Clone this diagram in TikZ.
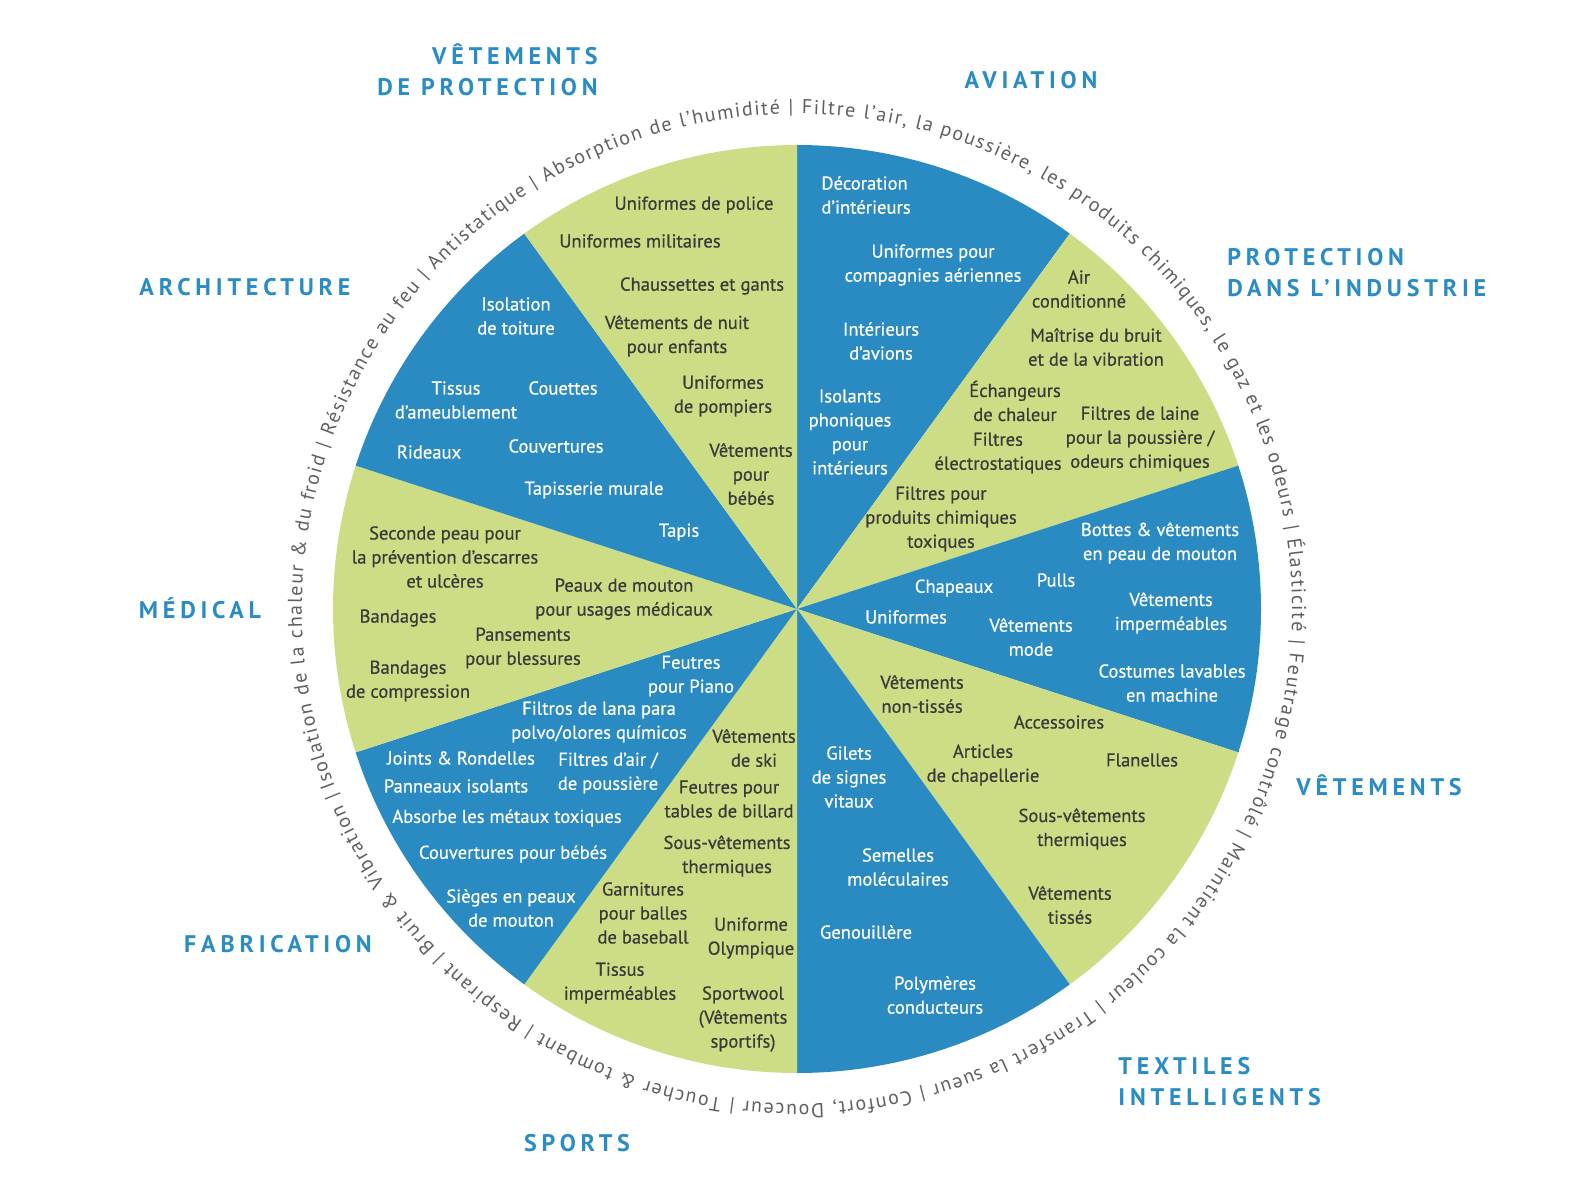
\documentclass[tikz,border=0pt]{standalone}
\usepackage{fontspec}
\setmainfont{PT Sans}
\newfontfamily\ringfont{PT Sans}
\newfontfamily\wheelfam{PT Sans}[FakeBold=0.6]
\newfontfamily\headfont{PT Sans}[LetterSpace=20]
\usetikzlibrary{decorations.text}
\definecolor{SecBlue}{RGB}{41,139,193}
\definecolor{SecGreen}{RGB}{205,221,133}
\definecolor{HeadBlue}{RGB}{42,140,196}
\definecolor{TextDark}{RGB}{58,58,58}
\definecolor{RingGray}{RGB}{95,95,95}
\newcommand{\wheelfont}{\wheelfam\fontsize{9.3}{12}\selectfont}

\begin{document}
\begin{tikzpicture}[x=0.5pt,y=0.5pt,
    wt/.style={text=white,font=\wheelfont,align=center,inner sep=0pt},
    dk/.style={text=TextDark,font=\wheelfont,align=center,inner sep=0pt},
    hd/.style={text=HeadBlue,font=\headfont\bfseries\fontsize{12}{15.5}\selectfont,
               align=center,inner sep=0pt}
  ]
    \useasboundingbox (0,0) rectangle (1596,-1188);
    \coordinate (ctr) at (797,-609);

    % wheel
    \foreach \a/\c in {90/SecBlue,54/SecGreen,18/SecBlue,-18/SecGreen,-54/SecBlue,
                       -90/SecGreen,-126/SecBlue,-162/SecGreen,-198/SecBlue,-234/SecGreen}
      \fill[\c] (ctr) -- ++(\a:464) arc[start angle=\a,delta angle=-36,radius=464] -- cycle;

    % ring of properties
    \path[decorate,decoration={text along path,text align={fit to path},
        text color=RingGray,
        text={|\ringfont\fontsize{10}{11}\selectfont|Isolation de la chaleur {\&} du froid {\textbar} Résistance au feu {\textbar} Antistatique {\textbar} Absorption de l’humidité {\textbar} Filtre l’air, la poussière, les produits chimiques, le gaz et les odeurs {\textbar} Élasticité {\textbar} Feutrage contrôlé {\textbar} Maintient la couleur {\textbar} Transfert la sueur {\textbar} Confort, Douceur {\textbar} Toucher {\&} tombant {\textbar} Respirant {\textbar} Bruit {\&} Vibration {\textbar}}}]
      (ctr) ++(201:495) arc[start angle=201,end angle=-158,radius=495];

    % headings
    \node[hd,align=right,anchor=east] (hvp) at (598,-70) {VÊTEMENTS\\DE PROTECTION};
    \node[hd] (hav) at (1031,-80) {AVIATION};
    \node[hd,align=left,anchor=west] (hpi) at (1227,-273) {PROTECTION\\DANS L’INDUSTRIE};
    \node[hd] (har) at (245,-287) {ARCHITECTURE};
    \node[hd] (hme) at (200,-608) {MÉDICAL};
    \node[hd] (hve) at (1379,-785) {VÊTEMENTS};
    \node[hd] (hfa) at (278,-944) {FABRICATION};
    \node[hd,align=left,anchor=west] (hti) at (1118,-1082) {TEXTILES\\INTELLIGENTS};
    \node[hd] (hsp) at (577,-1143) {SPORTS};

    % aviation
    \node[wt,align=left,anchor=west] (av1) at (821,-195) {Décoration\\d’intérieurs};
    \node[wt] (av2) at (933,-265) {Uniformes pour\\compagnies aériennes};
    \node[wt] (av3) at (881,-341) {Intérieurs\\d’avions};
    \node[wt] (av4) at (850,-432) {Isolants\\phoniques\\pour\\intérieurs};

    % protection dans l'industrie
    \node[dk] (pi1) at (1079,-289) {Air\\conditionné};
    \node[dk] (pi2) at (1096,-347) {Maîtrise du bruit\\et de la vibration};
    \node[dk] (pi3) at (1015,-401) {Échangeurs\\de chaleur};
    \node[dk] (pi4) at (998,-453) {Filtres\\électrostatiques};
    \node[dk] (pi5) at (1140,-439) {Filtres de laine\\pour la poussière /\\odeurs chimiques};
    \node[dk] (pi6) at (941,-519) {Filtres pour\\produits chimiques\\toxiques};

    % vetements
    \node[wt] (ve1) at (1160,-543) {Bottes \& vêtements\\en peau de mouton};
    \node[wt] (ve2) at (954,-588) {Chapeaux};
    \node[wt] (ve3) at (1056,-580) {Pulls};
    \node[wt] (ve4) at (906,-617) {Uniformes};
    \node[wt] (ve5) at (1031,-637) {Vêtements\\mode};
    \node[wt] (ve6) at (1171,-613) {Vêtements\\imperméables};
    \node[wt] (ve7) at (1172,-683) {Costumes lavables\\en machine};

    % textiles (green)
    \node[dk] (ti1) at (922,-694) {Vêtements\\non-tissés};
    \node[dk] (ti2) at (1059,-722) {Accessoires};
    \node[dk] (ti3) at (983,-765) {Articles\\de chapellerie};
    \node[dk] (ti4) at (1142,-760) {Flanelles};
    \node[dk] (ti5) at (1082,-829) {Sous-vêtements\\thermiques};
    \node[dk] (ti6) at (1070,-905) {Vêtements\\tissés};

    % textiles intelligents
    \node[wt] (sm1) at (849,-777) {Gilets\\de signes\\vitaux};
    \node[wt] (sm2) at (898,-867) {Semelles\\moléculaires};
    \node[wt] (sm3) at (866,-932) {Genouillère};
    \node[wt] (sm4) at (935,-995) {Polymères\\conducteurs};

    % sports
    \node[dk] (sp1) at (754,-748) {Vêtements\\de ski};
    \node[dk] (sp2) at (729,-799) {Feutres pour\\tables de billard};
    \node[dk] (sp3) at (727,-856) {Sous-vêtements\\thermiques};
    \node[dk] (sp4) at (643,-913) {Garnitures\\pour balles\\de baseball};
    \node[dk] (sp5) at (751,-938) {Uniforme\\Olympique};
    \node[dk] (sp6) at (620,-983) {Tissus\\imperméables};
    \node[dk] (sp7) at (743,-1019) {Sportwool\\(Vêtements\\sportifs)};

    % fabrication
    \node[wt] (fa1) at (691,-676) {Feutres\\pour Piano};
    \node[wt] (fa2) at (599,-722) {Filtros de lana para\\polvo/olores químicos};
    \node[wt] (fa3) at (461,-758) {Joints \& Rondelles};
    \node[wt] (fa4) at (456,-786) {Panneaux isolants};
    \node[wt] (fa5) at (608,-773) {Filtres d’air /\\de poussière};
    \node[wt] (fa6) at (507,-818) {Absorbe les métaux toxiques};
    \node[wt] (fa7) at (513,-854) {Couvertures pour bébés};
    \node[wt] (fa8) at (511,-908) {Sièges en peaux\\de mouton};

    % medical
    \node[dk] (me1) at (445,-557) {Seconde peau pour\\la prévention d’escarres\\et ulcères};
    \node[dk] (me2) at (624,-599) {Peaux de mouton\\pour usages médicaux};
    \node[dk] (me3) at (398,-618) {Bandages};
    \node[dk] (me4) at (523,-648) {Pansements\\pour blessures};
    \node[dk] (me5) at (408,-681) {Bandages\\de compression};

    % architecture
    \node[wt] (ar1) at (516,-316) {Isolation\\de toiture};
    \node[wt] (ar2) at (456,-400) {Tissus\\d’ameublement};
    \node[wt] (ar3) at (563,-388) {Couettes};
    \node[wt] (ar4) at (429,-452) {Rideaux};
    \node[wt] (ar5) at (556,-446) {Couvertures};
    \node[wt] (ar6) at (594,-490) {Tapisserie murale};
    \node[wt] (ar7) at (679,-532) {Tapis};

    % vetements de protection
    \node[dk] (vp1) at (694,-205) {Uniformes de police};
    \node[dk] (vp2) at (640,-241) {Uniformes militaires};
    \node[dk] (vp3) at (702,-286) {Chaussettes et gants};
    \node[dk] (vp4) at (677,-336) {Vêtements de nuit\\pour enfants};
    \node[dk] (vp5) at (723,-396) {Uniformes\\de pompiers};
    \node[dk] (vp6) at (751,-474) {Vêtements\\pour\\bébés};
  \end{tikzpicture}
\end{document}
